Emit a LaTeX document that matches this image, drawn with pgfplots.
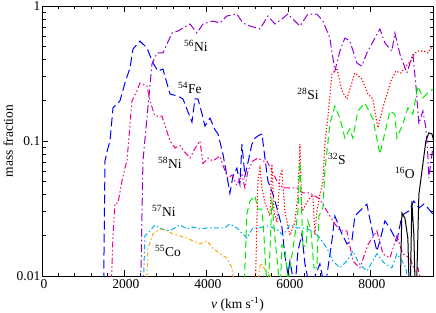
\documentclass[border=0pt]{standalone}
\usepackage{fontspec}
\setmainfont{Liberation Serif}
\usepackage{pgfplots}
\pgfplotsset{compat=1.18}
\definecolor{gviolet}{RGB}{148,0,211}
\definecolor{gorange}{RGB}{255,165,0}
\definecolor{ggreen}{RGB}{0,235,0}
\begin{document}
\fontsize{13.5}{15}\selectfont
\begin{tikzpicture}
\begin{axis}[
  scale only axis, width=391pt, height=270pt,
  xmin=0, xmax=9540, ymin=0.01, ymax=1, ymode=log,
  xtick={0,2000,4000,6000,8000}, minor x tick num=4,
  ytick={0.01,0.1,1}, yticklabels={0.01,0.1,1},
  minor ytick={0.02,0.03,0.04,0.05,0.06,0.07,0.08,0.09,0.2,0.3,0.4,0.5,0.6,0.7,0.8,0.9},
  tick align=inside,
  major tick length=6pt, minor tick length=3.5pt,
  /pgf/number format/assume math mode=true,
  /pgf/number format/1000 sep={},
  scaled x ticks=false,
  tick label style={font=\fontsize{13.5}{15}\selectfont},
  label style={font=\fontsize{13.5}{15}\selectfont},
  yticklabel style={inner sep=1.5pt},
  xticklabel style={inner sep=2pt, yshift=-1.5pt, xshift=2pt},
  every tick/.style={black, line width=0.7pt},
  axis line style={line width=1pt},
  xlabel={\textit{v} (km s\textsuperscript{-1})},
  ylabel={mass fraction},
  xlabel style={at={(axis description cs:0.5,-0.062)}, anchor=north},
  ylabel style={at={(axis description cs:-0.062,0.5)}, anchor=south},
  clip=true,
]
% 54Fe
\addplot[blue, line width=1pt, dash pattern=on 9pt off 4pt] coordinates {
(1488,0.003) (1537,0.0711) (1610,0.0888) (1659,0.100) (1732,0.176) (1829,0.188)
(1902,0.198) (2024,0.269) (2146,0.347) (2220,0.480) (2390,0.550) (2561,0.489)
(2707,0.378) (2829,0.330) (2951,0.341) (3122,0.223) (3317,0.215) (3439,0.205)
(3659,0.138) (3732,0.205) (3805,0.205) (3902,0.160) (3976,0.129) (4098,0.148)
(4220,0.121) (4293,0.113) (4415,0.0801) (4512,0.0550) (4585,0.0410) (4659,0.0550)
(4756,0.0630) (4829,0.0480) (4878,0.0950) (4951,0.0550) (5024,0.0690) (5122,0.0950)
(5195,0.105) (5268,0.109) (5366,0.113) (5439,0.0750) (5512,0.0506) (5634,0.0405)
(5756,0.0300) (5854,0.0230) (5927,0.0141) (6000,0.0104) (6049,0.0129) (6171,0.008)
(6244,0.0153) (6341,0.0205) (6415,0.0123) (6537,0.008) (6780,0.0123) (6902,0.008)
(7073,0.0182) (7146,0.0278) (7317,0.0205) (7439,0.0173) (7561,0.0182) (7634,0.0278)
(7756,0.0303) (7927,0.0341) (8073,0.0205) (8171,0.0153) (8244,0.0182) (8366,0.0256)
(8488,0.0227) (8561,0.0205) (8659,0.0182) (8756,0.0256) (8829,0.0288) (8951,0.0303)
(9073,0.0359) (9195,0.0319) (9317,0.0341) (9415,0.0319) (9537,0.0288)
};
% 56Ni
\addplot[gviolet, line width=1pt, dash pattern=on 8pt off 3pt on 1.5pt off 3pt] coordinates {
(2390,0.004) (2463,0.071) (2683,0.372) (2805,0.449) (2951,0.449) (3171,0.631)
(3317,0.653) (3610,0.736) (3780,0.631) (3927,0.736) (4171,0.774) (4341,0.748)
(4512,0.843) (4756,0.872) (4902,0.748) (5073,0.711) (5317,0.676) (5512,0.843)
(5683,0.736) (5854,0.801) (6000,0.872) (6293,0.711) (6488,0.872) (6707,0.872)
(6854,0.774) (7024,0.579) (7146,0.330) (7268,0.464) (7390,0.579) (7512,0.550)
(7683,0.378) (7805,0.359) (7927,0.449) (8244,0.676) (8366,0.532) (8537,0.464)
(8610,0.631) (8732,0.441) (8902,0.319) (9049,0.441) (9122,0.260) (9171,0.167)
(9195,0.134) (9293,0.167) (9366,0.125) (9415,0.0774) (9439,0.0532) (9488,0.070)
(9537,0.089)
};
% 58Ni
\addplot[magenta, line width=1pt, dash pattern=on 6pt off 2.5pt on 1.5pt off 2.5pt on 1.5pt off 2.5pt] coordinates {
(1659,0.004) (1732,0.02) (1780,0.0347) (1854,0.0347) (1951,0.0506) (2024,0.0631)
(2073,0.0711) (2195,0.198) (2317,0.235) (2390,0.269) (2561,0.256) (2634,0.198)
(2756,0.153) (2927,0.153) (3122,0.100) (3244,0.0888) (3366,0.0926) (3480,0.0830)
(3610,0.0748) (3732,0.0880) (3854,0.100) (3927,0.0680) (4049,0.0748) (4171,0.0711)
(4341,0.0774) (4415,0.0660) (4537,0.0530) (4634,0.0560) (4756,0.0470) (4878,0.0560)
(4951,0.0450) (5024,0.0600) (5146,0.0711) (5268,0.0748) (5390,0.0711) (5488,0.0711)
(5610,0.0600) (5732,0.0506) (5878,0.0449) (6049,0.0449) (6220,0.0449) (6366,0.0412)
(6537,0.0412) (6780,0.0372) (6951,0.0303) (7098,0.0256) (7268,0.0216) (7439,0.0216)
(7585,0.0129) (7756,0.0115) (7951,0.0170) (8171,0.0216) (8317,0.0146) (8488,0.0136)
(8659,0.0198) (8805,0.0146) (8976,0.0136) (9098,0.0109) (9171,0.0115) (9293,0.008)
};
% 57Ni
\addplot[cyan, line width=1pt, dash pattern=on 5pt off 2.5pt on 1.5pt off 2.5pt] coordinates {
(2439,0.004) (2512,0.0198) (2634,0.0216) (2756,0.0239) (2878,0.0227) (3049,0.0216)
(3195,0.0223) (3366,0.0239) (3537,0.0223) (3683,0.0231) (3854,0.0223) (4024,0.0227)
(4268,0.0227) (4463,0.0228) (4585,0.0243) (4756,0.0227) (5000,0.0191) (5146,0.0227)
(5317,0.0228) (5512,0.0235) (5732,0.0223) (5878,0.0200) (6049,0.0240) (6220,0.0227)
(6366,0.0227) (6610,0.0216) (6780,0.0191) (6951,0.0161) (7098,0.0129) (7268,0.0115)
(7439,0.0129) (7585,0.0153) (7756,0.0121) (7927,0.0109) (8171,0.0146) (8366,0.0123)
(8537,0.0115) (8659,0.0146) (8780,0.0130) (8878,0.0115) (8951,0.008)
};
% 55Co
\addplot[gorange, line width=1pt, dash pattern=on 4pt off 2.5pt on 1.5pt off 2.5pt] coordinates {
(2512,0.004) (2585,0.0161) (2707,0.0205) (2878,0.0223) (3049,0.0216) (3195,0.0205)
(3366,0.0198) (3537,0.0191) (3683,0.0182) (3854,0.0173) (4024,0.0182) (4171,0.0161)
(4341,0.0146) (4512,0.0136) (4634,0.0115) (4700,0.008)
};
\addplot[gorange, line width=1pt, dash pattern=on 4pt off 2.5pt on 1.5pt off 2.5pt] coordinates {
(5244,0.008) (5330,0.0125) (5440,0.0112) (5560,0.0104) (5660,0.008)
};
% 28Si
\addplot[red, line width=1.1pt, dash pattern=on 1.2pt off 2pt] coordinates {
(5195,0.006) (5268,0.0506) (5317,0.0630) (5366,0.045) (5439,0.035) (5561,0.028)
(5610,0.0676) (5660,0.030) (5732,0.025) (5805,0.055) (5854,0.060) (5927,0.030)
(6049,0.020) (6171,0.025) (6244,0.040) (6293,0.0950) (6341,0.030) (6463,0.035)
(6537,0.0380) (6610,0.0400) (6659,0.020) (6707,0.030) (6780,0.0400) (6854,0.050)
(6902,0.0950) (6976,0.150) (7073,0.313) (7195,0.347) (7317,0.235) (7439,0.205)
(7634,0.319) (7805,0.288) (7951,0.223) (8073,0.205) (8195,0.125) (8317,0.176)
(8439,0.235) (8512,0.278) (8634,0.330) (8756,0.319) (8878,0.359) (9000,0.392)
(9073,0.441) (9171,0.464) (9317,0.464) (9415,0.449) (9488,0.489) (9561,0.480)
};
% 32S
\addplot[ggreen, line width=1pt, dash pattern=on 7pt off 4pt] coordinates {
(4878,0.003) (5000,0.0290) (5073,0.0359) (5195,0.0392) (5268,0.0313) (5366,0.0313)
(5415,0.0200) (5470,0.0104) (5512,0.007) (5561,0.0150) (5610,0.0380) (5650,0.025)
(5700,0.0170) (5756,0.0115) (5805,0.007) (5854,0.0170) (5927,0.0160) (6000,0.009)
(6171,0.0200) (6244,0.0300) (6293,0.0700) (6366,0.0170) (6439,0.0165) (6488,0.0256)
(6561,0.0220) (6634,0.0115) (6707,0.0115) (6756,0.0278) (6854,0.0320) (6902,0.0600)
(7024,0.134) (7146,0.182) (7268,0.148) (7390,0.105) (7512,0.123) (7585,0.105)
(7707,0.167) (7878,0.191) (8073,0.146) (8244,0.0801) (8366,0.115) (8488,0.167)
(8610,0.158) (8659,0.105) (8805,0.134) (8927,0.176) (9049,0.158) (9171,0.256)
(9293,0.208) (9463,0.235) (9561,0.243)
};
% 16O
\addplot[black, line width=1pt] coordinates {
(8732,0.006) (8780,0.0293) (8854,0.0269) (8927,0.0190) (8976,0.005) (9024,0.0359)
(9073,0.0200) (9122,0.005) (9195,0.0400) (9293,0.0676) (9366,0.100) (9439,0.115)
(9512,0.113) (9561,0.100)
};
\node at (axis cs:3756,0.505) {\textsuperscript{56}Ni};
\node at (axis cs:3610,0.247) {\textsuperscript{54}Fe};
\node at (axis cs:3122,0.0686) {\textsuperscript{58}Ni};
\node at (axis cs:2976,0.0303) {\textsuperscript{57}Ni};
\node at (axis cs:3073,0.0153) {\textsuperscript{55}Co};
\node at (axis cs:6488,0.223) {\textsuperscript{28}Si};
\node at (axis cs:7195,0.0740) {\textsuperscript{32}S};
\node at (axis cs:8854,0.058) {\textsuperscript{16}O};
\end{axis}
\pgfresetboundingbox
\path[use as bounding box] ([shift={(-42pt,-36pt)}]current axis.south west) rectangle ([shift={(3pt,6pt)}]current axis.north east);
\end{tikzpicture}
\end{document}
